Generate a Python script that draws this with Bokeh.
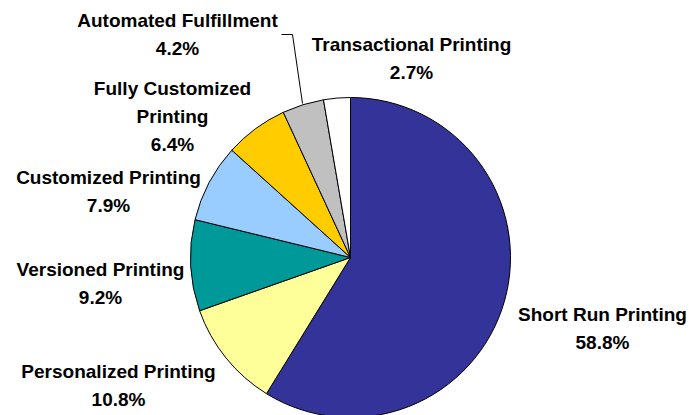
import math
from bokeh.plotting import figure
from bokeh.models import Range1d, ColumnDataSource
from bokeh.core.properties import value
from bokeh.embed import file_html
from bokeh.resources import INLINE

# ---- data ----
categories = ["Short Run Printing", "Personalized Printing", "Versioned Printing",
              "Customized Printing", "Fully Customized Printing",
              "Automated Fulfillment", "Transactional Printing"]
shares = [58.8, 10.8, 9.2, 7.9, 6.4, 4.2, 2.7]
label_names = ["Short Run Printing", "Personalized Printing", "Versioned Printing",
               "Customized Printing", "Fully Customized\nPrinting",
               "Automated Fulfillment", "Transactional Printing"]

# ---- styling / layout ----
colors = ["#333399", "#FFFF99", "#009999", "#99CCFF", "#FFCC00", "#C0C0C0", "#FFFFFF"]
W, H = 689, 415

def cx(x):  # picture px -> data x
    return x

def cy(y):  # picture px -> data y
    return H - y

center = (cx(350), cy(257))
radius = 160
label_pos = [(602, 328), (118, 385), (100, 283), (108, 191), (172, 116), (177, 34), (411, 58)]

total = sum(shares)
starts, ends = [], []
cum = 0.0
for s in shares:
    a0 = math.pi / 2 - 2 * math.pi * cum / total
    cum += s
    a1 = math.pi / 2 - 2 * math.pi * cum / total
    starts.append(a1)
    ends.append(a0)

src = ColumnDataSource(dict(cat=categories, share=shares, color=colors,
                            start=starts, end=ends))

p = figure(width=W, height=H, x_range=Range1d(0, W), y_range=Range1d(0, H),
           output_backend="svg", toolbar_location=None, min_border=0,
           outline_line_color=None)
p.axis.visible = False
p.grid.visible = False
p.background_fill_color = "white"

p.wedge(x=center[0], y=center[1], radius=radius, start_angle="start", end_angle="end",
        fill_color="color", line_color="black", line_width=1, source=src)

texts = [f"{n}\n{s:.1f}%" for n, s in zip(label_names, shares)]
lsrc = ColumnDataSource(dict(x=[cx(a) for a, b in label_pos], y=[cy(b) for a, b in label_pos],
                             t=texts))
p.text(x="x", y="y", text="t", source=lsrc, text_align="center", text_baseline="middle",
       text_font=value("Liberation Sans"), text_font_style="bold",
       text_font_size="19px", text_line_height=1.35, text_color="black")

# leader line for Automated Fulfillment
p.line(x=[cx(281), cx(292), cx(302)], y=[cy(34), cy(34), cy(103)],
       line_color="black", line_width=1)

open("out.html", "w").write(file_html(p, INLINE))
